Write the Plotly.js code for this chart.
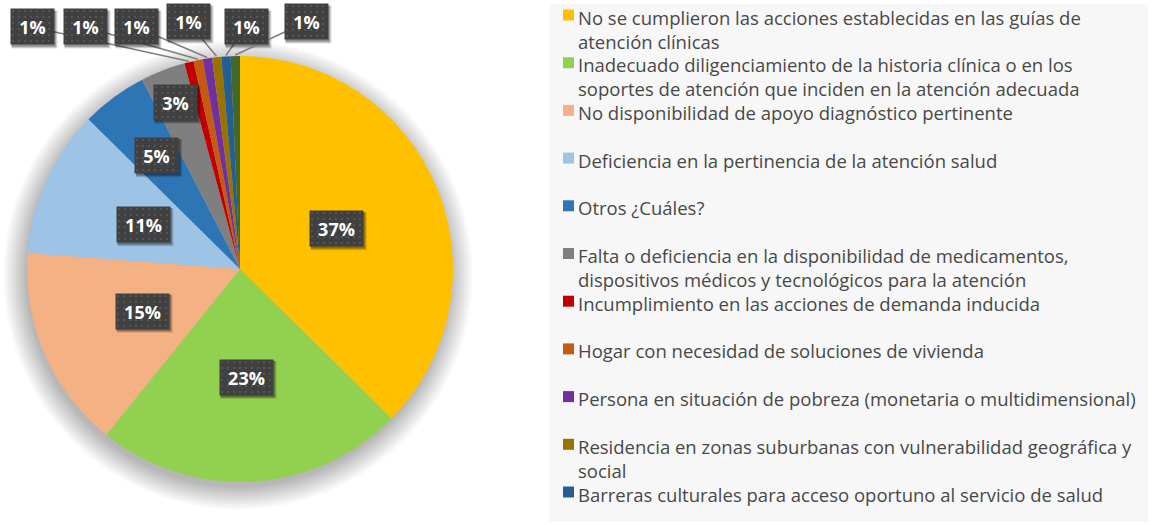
<!DOCTYPE html>
<html>
<head>
<meta charset="utf-8">
<script src="https://cdn.plot.ly/plotly-3.0.1.min.js"></script>
<style>
  html, body { margin: 0; padding: 0; background: #ffffff; }
  #chart { width: 1152px; height: 525px; }
  .annotation.pctlbl rect.bg { fill: url(#dots) !important; }
</style>
</head>
<body>
<svg width="0" height="0" style="position:absolute">
  <defs>
    <pattern id="dots" width="6" height="6" patternUnits="userSpaceOnUse">
      <rect width="6" height="6" fill="#404040"/>
      <rect x="2" y="2" width="2" height="2" fill="#555555"/>
    </pattern>
  </defs>
</svg>
<div id="chart"></div>
<script>
// ---------------- DATA ----------------
const categories = [
  "No se cumplieron las acciones establecidas en las guías de<br>atención clínicas",
  "Inadecuado diligenciamiento de la historia clínica o en los<br>soportes de atención que inciden en la atención adecuada",
  "No disponibilidad de apoyo diagnóstico pertinente",
  "Deficiencia en la pertinencia de la atención salud",
  "Otros ¿Cuáles?",
  "Falta o deficiencia en la disponibilidad de medicamentos,<br>dispositivos médicos y tecnológicos para la atención",
  "Incumplimiento en las acciones de demanda inducida",
  "Hogar con necesidad de soluciones de vivienda",
  "Persona en situación de pobreza (monetaria o multidimensional)",
  "Residencia en zonas suburbanas con vulnerabilidad geográfica y<br>social",
  "Barreras culturales para acceso oportuno al servicio de salud",
  "Otra causa"
];
const values = [37.4, 23.4, 15.4, 11.2, 5.0, 3.4, 0.7, 0.7, 0.7, 0.7, 0.7, 0.7];
const colors = ["#FFC000", "#92D050", "#F4B183", "#9DC3E6", "#2E75B6", "#7F7F7F",
                "#C00000", "#C55A11", "#7030A0", "#997300", "#255E91", "#43682B"];

// ---------------- LAYOUT HELPERS ----------------
const W = 1152, H = 525;
const CX = 240, CY = 269, R = 213;           // pie centre / radius in px
const insideLabelRadius = [0.49, 0.51, 0.50, 0.50, 0.66, 0.84];
const outsideLabelPos = [[32, 27], [85, 27], [136, 27], [188, 22], [246, 27], [306, 22]];
const legendTop = 15, legendStep = 47.7;

const px = x => x / W;
const py = y => 1 - y / H;

const total = values.reduce((a, b) => a + b, 0);
let cum = 0;
const midAngles = values.map(v => { const m = (cum + v / 2) / total; cum += v; return m * 2 * Math.PI; });
const pctText = values.map(v => Math.round(v / total * 100) + "%");

const annotations = [];
const shapes = [];

// legend background
shapes.push({type: "rect", xref: "paper", yref: "paper", layer: "below",
  x0: px(549), x1: px(1148), y0: py(522), y1: py(4),
  fillcolor: "#F7F7F7", line: {width: 0}});

// soft pie shadow (stacked translucent circles)
for (let k = 24; k >= 1; k--) {
  const rr = R - 2 + k * 1.0;
  const sx = CX - 2, sy = CY + 6;
  shapes.push({type: "circle", xref: "paper", yref: "paper", layer: "below",
    x0: px(sx - rr), x1: px(sx + rr), y0: py(sy + rr), y1: py(sy - rr),
    fillcolor: "rgba(0,0,0,0.013)", line: {width: 0}});
}

// percentage labels
values.forEach((v, i) => {
  const th = midAngles[i];
  let lx, ly;
  if (i < insideLabelRadius.length) {
    const rr = insideLabelRadius[i] * R;
    lx = CX + rr * Math.sin(th);
    ly = CY - rr * Math.cos(th);
  } else {
    const p = outsideLabelPos[i - insideLabelRadius.length];
    lx = p[0]; ly = p[1];
    const ex = CX + (R + 1) * Math.sin(th);
    const ey = CY - (R + 1) * Math.cos(th);
    shapes.push({type: "line", xref: "paper", yref: "paper", layer: "above",
      x0: px(lx), y0: py(ly), x1: px(ex), y1: py(ey),
      line: {color: "#7F7F7F", width: 1.5}});
  }
  const t = pctText[i];
  const bw = t.length >= 3 ? 53 : 43, bh = 35;
  // label box shadow
  [[4, 0.12], [3, 0.18], [2, 0.22]].forEach(([o, a]) => {
    shapes.push({type: "rect", xref: "paper", yref: "paper", layer: "above",
      x0: px(lx - bw / 2 + 1), x1: px(lx + bw / 2 + o), y0: py(ly + bh / 2 + o), y1: py(ly - bh / 2 + 1),
      fillcolor: "rgba(0,0,0," + a + ")", line: {width: 0}});
  });
  annotations.push({
    xref: "paper", yref: "paper", x: px(lx), y: py(ly),
    xanchor: "center", yanchor: "middle", showarrow: false,
    text: "<b>" + t + "</b>",
    font: {family: "Open Sans, sans-serif", size: 18, color: "#FFFFFF"},
    bgcolor: "#404040", borderpad: 0,
    width: bw, height: bh
  });
});

// legend (drawn from categories / colors)
categories.forEach((c, i) => {
  const yc = legendTop + i * legendStep;
  if (yc > H - 10) return;
  shapes.push({type: "rect", xref: "paper", yref: "paper", layer: "above",
    x0: px(563), x1: px(574), y0: py(yc + 5.5), y1: py(yc - 5.5),
    fillcolor: colors[i], line: {width: 0}});
  annotations.push({
    xref: "paper", yref: "paper", x: px(576), y: py(yc - 12.5),
    xanchor: "left", yanchor: "top", align: "left", showarrow: false,
    text: c,
    font: {family: "Open Sans, sans-serif", size: 18.5, color: "#484848"}
  });
});

const data = [{
  type: "pie",
  labels: categories,
  values: values,
  marker: {colors: colors, line: {width: 0}},
  sort: false,
  direction: "clockwise",
  rotation: 0,
  textinfo: "none",
  hoverinfo: "label+percent",
  showlegend: false,
  domain: {x: [px(CX - R), px(CX + R)], y: [py(CY + R), py(CY - R)]}
}];

const layout = {
  width: W, height: H,
  margin: {l: 0, r: 0, t: 0, b: 0},
  paper_bgcolor: "#FFFFFF",
  showlegend: false,
  annotations: annotations,
  shapes: shapes
};

Plotly.newPlot("chart", data, layout, {displayModeBar: false, staticPlot: true}).then(() => {
  document.querySelectorAll(".annotation").forEach((g, k) => {
    if (k < values.length) g.classList.add("pctlbl");
  });
});
</script>
</body>
</html>
